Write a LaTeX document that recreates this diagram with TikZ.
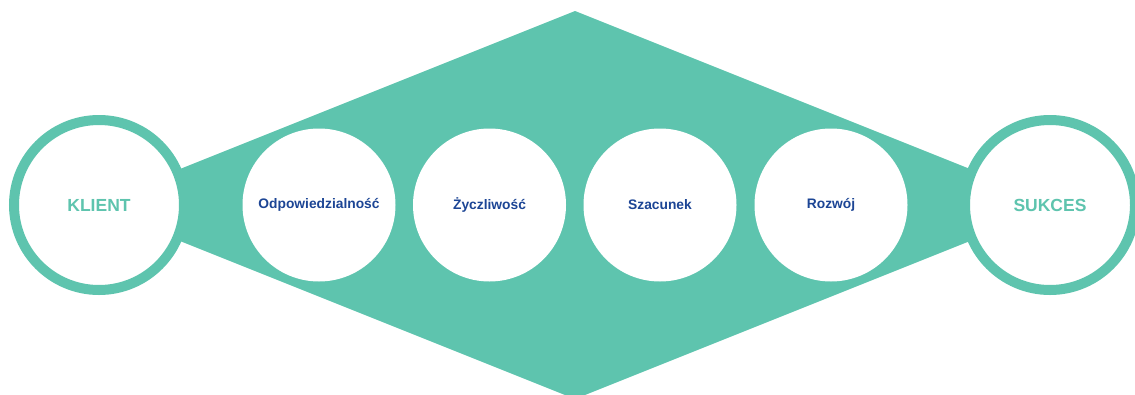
\documentclass[tikz,border=0pt]{standalone}
\usepackage{fontspec}
\setmainfont{Liberation Sans}
\definecolor{teal}{HTML}{5EC4AE}
\definecolor{navy}{HTML}{1C4595}
\begin{document}
\begin{tikzpicture}[x=1pt,y=-1pt,
  ring/.style={circle, fill=white, draw=teal, line width=10pt, minimum size=170pt, inner sep=0pt,
    text=teal, font=\bfseries\fontsize{17.5}{20}\selectfont},
  value/.style={circle, fill=white, minimum size=153pt, inner sep=0pt,
    text=navy, font=\bfseries\fontsize{13.8}{15}\selectfont}]
\useasboundingbox (0,0) rectangle (1135,394);
\clip (0,0) rectangle (1135,394);
\coordinate (top) at (575,11);
\coordinate (bot) at (575,399);
\coordinate (lft) at (90,205);
\coordinate (rgt) at (1060,205);
\fill[teal] (top) -- (rgt) -- (bot) -- (lft) -- cycle;
\node[ring] (klient) at (99,205) {KLIENT};
\node[ring] (sukces) at (1050,205) {SUKCES};
\node[value] (v1) at (319,205) {Odpowiedzialność};
\node[value] (v2) at (489.5,205) {Życzliwość};
\node[value] (v3) at (660,205) {Szacunek};
\node[value] (v4) at (831,205) {Rozwój};
\end{tikzpicture}
\end{document}
